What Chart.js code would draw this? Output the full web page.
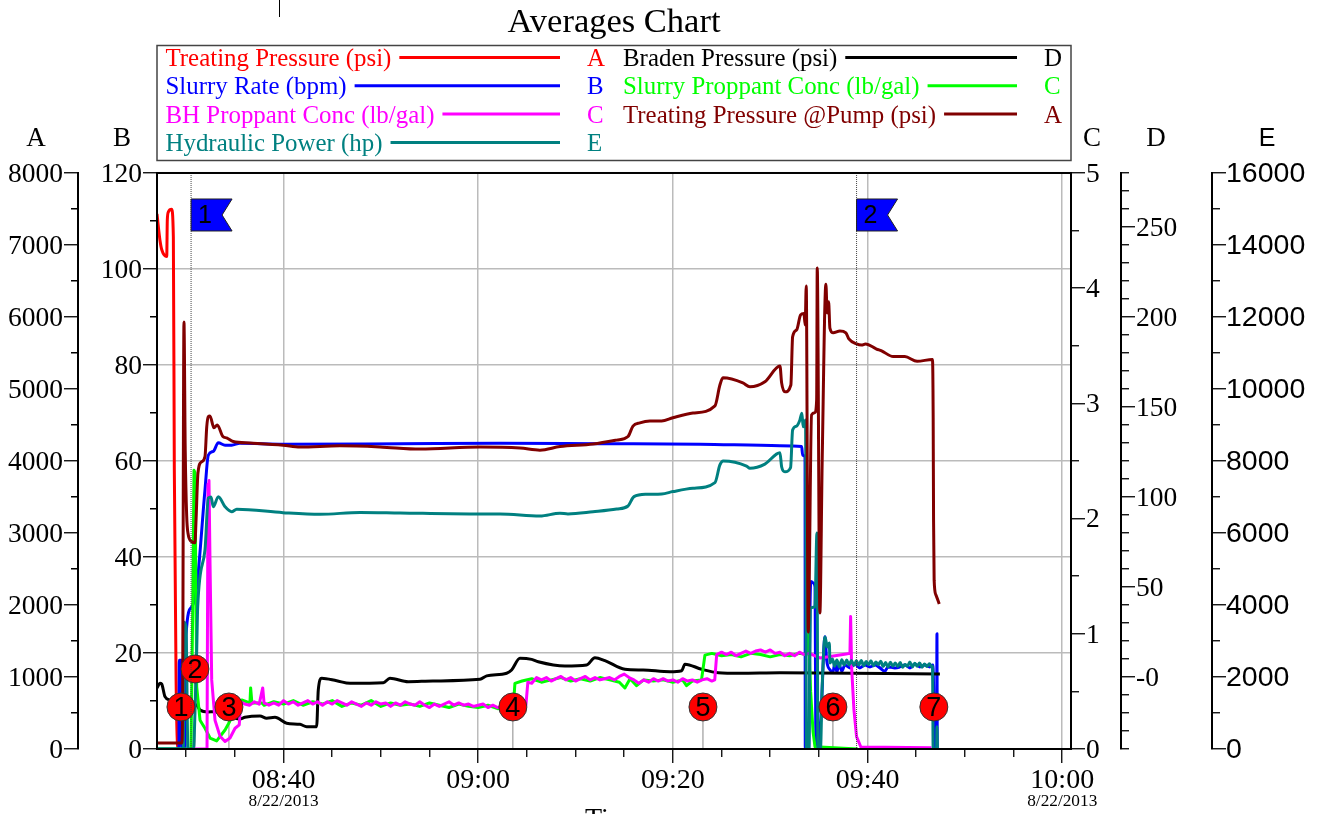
<!DOCTYPE html>
<html>
<head>
<meta charset="utf-8">
<title>Averages Chart</title>
<script src="https://cdn.jsdelivr.net/npm/chart.js@4"></script>
<style>
  html, body { margin: 0; padding: 0; background: #fff; overflow: hidden; }
  canvas { display: block; }
</style>
</head>
<body>
<canvas id="chart_1" width="1327" height="814"></canvas>
<script>
// every series is [minutes since midnight, value]
const treatingPressure = [[507,7430],[507.3,7070],[507.5,6930],[508,6840],[508.06,7350],[508.17,7460],[508.5,7495],[508.68,7115],[508.78,3875],[508.96,960],[509.13,30],[509.25,0]];

const slurryRate = [[507,0],[509.25,0],[509.29,18.5],[509.54,18.5],[509.57,0],[509.88,0],[509.98,23.7],[510.56,29.6],[511.08,33.8],[511.93,54],[512.27,61.2],[512.78,62],[513.3,63.8],[513.99,63.3],[514.67,63.3],[515.52,63.7],[519.95,63.5],[531.97,63.6],[542.24,63.7],[552.5,63.6],[562.8,63.5],[571,63.2],[573.23,63],[573.33,61.2],[573.57,60.9],[573.58,57.8],[573.6,0],[573.97,0],[574.08,28.3],[574.18,34.9],[574.42,34.6],[574.6,33.8],[574.7,0],[575,0],[575.05,3.3],[575.19,6],[575.63,23.4],[575.8,18.5],[576.14,16.5],[576.44,16],[576.64,17.9],[576.85,16],[577.05,17.7],[577.36,16.2],[577.67,17.5],[578.19,16.9],[578.7,17.7],[579.21,16.9],[579.73,17.5],[580.24,17.1],[580.75,17.5],[581.27,16.9],[581.78,16.2],[582.09,17.1],[582.81,16.9],[583.32,17.1],[583.84,17.5],[584.35,16.9],[584.86,17.7],[585.37,17.1],[585.89,17.5],[586.4,17.1],[586.71,17.5],[586.92,0.4],[587.09,0],[587.13,24],[587.16,0]];

const bhProppant = [[510.7,0],[512.14,0],[512.24,2.3],[512.34,2.33],[512.45,1.6],[512.62,0.6],[512.96,0.25],[513.48,0.11],[513.99,0.065],[514.5,0.095],[515.02,0.18],[515.45,0.21],[515.6,0.41],[516,0.39],[516.5,0.38],[517,0.41],[517.5,0.39],[517.86,0.53],[518,0.4],[518.5,0.38],[519,0.4],[519.5,0.38],[520,0.42],[520.5,0.39],[521,0.41],[521.5,0.38],[522,0.4],[522.5,0.42],[523,0.39],[523.5,0.41],[524,0.38],[524.5,0.41],[525,0.39],[525.5,0.42],[526,0.4],[526.5,0.38],[527,0.41],[527.5,0.39],[528,0.37],[528.5,0.4],[529,0.38],[529.5,0.41],[530,0.39],[530.5,0.4],[531,0.37],[531.5,0.4],[532,0.38],[532.5,0.41],[533,0.39],[533.5,0.38],[534,0.41],[534.5,0.38],[535,0.36],[535.5,0.39],[536,0.37],[536.5,0.39],[537,0.41],[537.5,0.38],[538,0.4],[538.5,0.38],[539,0.39],[539.5,0.37],[540,0.38],[540.5,0.39],[541,0.36],[541.5,0.38],[542,0.36],[542.5,0.37],[543,0.35],[543.5,0.37],[544,0.36],[544.5,0.38],[544.9,0.38],[545.1,0.58],[545.5,0.57],[546,0.62],[546.5,0.6],[547,0.62],[547.5,0.59],[548,0.61],[548.5,0.63],[549,0.6],[549.5,0.62],[550,0.59],[550.5,0.61],[551,0.63],[551.5,0.6],[552,0.62],[552.5,0.6],[553,0.61],[553.5,0.62],[554,0.6],[554.5,0.63],[555,0.65],[555.5,0.62],[556,0.6],[556.5,0.57],[557,0.6],[557.5,0.58],[558,0.61],[558.5,0.59],[559,0.61],[559.5,0.59],[560,0.6],[560.5,0.58],[561,0.61],[561.5,0.59],[562,0.6],[562.5,0.58],[563,0.6],[563.5,0.61],[564,0.59],[564.3,0.6],[564.5,0.82],[565,0.84],[565.5,0.82],[566,0.84],[566.5,0.81],[567,0.83],[567.5,0.85],[568,0.83],[568.5,0.85],[569,0.86],[569.5,0.84],[570,0.86],[570.5,0.83],[571,0.84],[571.5,0.81],[572,0.83],[572.5,0.81],[573,0.84],[573.5,0.82],[574,0.83],[575.1,0.79],[576,0.8],[577.8,0.825],[578.19,0.83],[578.26,1.15],[578.36,0.71],[578.6,0.34],[578.87,0.107],[579.31,0.017],[586.57,0.01]];

const hydraulicPower = [[507,0],[509.71,0],[509.74,3530],[509.98,3390],[510.18,0],[510.75,0],[510.9,1000],[511.08,2750],[511.18,3945],[511.93,5530],[512.27,6970],[512.55,7000],[512.78,6730],[513.3,7010],[513.99,6730],[514.67,6590],[515.19,6660],[519.95,6565],[523.75,6520],[527.86,6570],[531.97,6555],[539.15,6530],[542.24,6530],[546.34,6470],[548.4,6550],[549.22,6530],[551.79,6590],[554.23,6665],[555.39,6750],[556,7010],[557.31,7075],[558.85,7085],[560,7150],[562.06,7240],[564.32,7400],[564.83,7890],[565.17,8000],[567.57,7860],[567.91,7800],[569.45,7915],[571,8230],[571.17,7840],[571.51,7700],[572.09,7815],[572.3,8860],[572.71,8970],[573.05,9140],[573.25,9325],[573.39,8950],[573.63,9140],[573.72,0],[573.97,0],[574.13,3915],[574.59,3945],[574.8,6000],[574.9,0],[575.16,0],[575.34,1750],[575.63,3110],[575.86,2830],[576.07,2945],[576.14,2390],[576.4,2500],[576.6,2300],[576.85,2470],[577.1,2280],[577.35,2480],[577.6,2330],[577.85,2470],[578.1,2340],[578.35,2460],[578.6,2320],[578.85,2450],[579.1,2330],[579.35,2460],[579.6,2310],[579.85,2430],[580.1,2340],[580.35,2450],[580.6,2310],[580.85,2420],[581.1,2340],[581.35,2440],[581.6,2290],[581.85,2400],[582.1,2280],[582.35,2410],[582.6,2300],[582.85,2390],[583.1,2290],[583.35,2400],[583.6,2270],[583.85,2350],[584.1,2300],[584.35,2420],[584.6,2280],[584.85,2380],[585.1,2300],[585.35,2390],[585.6,2270],[585.85,2360],[586.1,2290],[586.35,2370],[586.6,2280],[586.67,2305],[586.74,0],[587.09,0],[587.13,620],[587.18,0]];

const bradenPressure = [[507,-6.1],[507.3,-3.5],[507.48,-3.9],[507.82,-10.9],[508.34,-12.8],[509.88,-14.4],[511.08,-15.6],[511.42,-18.3],[512.27,-19.4],[512.78,-19.3],[515.52,-23.3],[516.03,-22.4],[517.58,-21.7],[518.26,-22.9],[519.12,-22.4],[520.32,-25.7],[521.69,-26.3],[522.38,-27.6],[523.4,-27.6],[523.57,-7.2],[523.92,-0.7],[525.46,-2.1],[526.83,-3.5],[530.25,-3.2],[530.93,-0.7],[532.81,-2.6],[535.35,-2.2],[540.18,-1.3],[540.87,0.6],[542.92,2.1],[543.43,3.9],[544.29,10.4],[545.49,9.8],[546.17,8.5],[548.91,6.1],[551.14,6.7],[551.99,10.7],[553.02,9.1],[555.07,4.3],[556.95,3.9],[559.7,2.9],[560.9,3.5],[561.24,7.1],[562.95,4.3],[564.66,2.4],[566.88,2.1],[570.99,2.4],[587.43,1.7]];

const slurryProppant = [[507,0],[510.39,0],[510.49,0],[510.67,1.2],[510.8,2.42],[510.9,2.4],[511.08,0.54],[511.42,0.25],[511.93,0.18],[512.45,0.095],[513.13,0.07],[513.99,0.165],[514.33,0.217],[514.71,0.28],[515.33,0.37],[515.7,0.425],[516.55,0.4],[516.62,0.53],[516.75,0.4],[517.79,0.4],[518,0.38],[519,0.41],[520,0.39],[521,0.42],[522,0.38],[523,0.41],[524,0.39],[525,0.42],[526,0.37],[527,0.4],[528,0.38],[529,0.42],[530,0.37],[531,0.4],[532,0.38],[533,0.39],[534,0.37],[535,0.4],[536,0.38],[537,0.36],[538,0.39],[539,0.37],[540,0.36],[541,0.38],[542,0.35],[543.6,0.36],[543.77,0.57],[544.5,0.59],[545.5,0.61],[546.5,0.58],[547.5,0.6],[548.5,0.62],[549.5,0.59],[550.5,0.61],[551.5,0.59],[552.5,0.62],[553.5,0.6],[554.5,0.58],[555.07,0.53],[555.6,0.61],[556.27,0.55],[557,0.6],[558,0.59],[559,0.6],[560,0.58],[561,0.6],[561.4,0.55],[562,0.59],[562.94,0.6],[563.29,0.815],[564,0.83],[565,0.81],[566,0.82],[567,0.8],[568,0.83],[569,0.82],[570,0.8],[571,0.82],[572,0.81],[573,0.83],[573.7,0.82],[573.95,1],[574.15,0.5],[574.4,0.15],[574.6,0.02],[579,0]];

const pumpPressure = [[507,83],[509.54,83],[509.62,400],[509.77,5930],[509.9,4150],[510.05,3235],[510.18,3000],[510.56,2880],[510.9,2865],[511,3140],[511.21,3835],[511.59,3990],[511.93,4060],[512.11,4475],[512.27,4615],[512.44,4625],[512.85,4460],[513.19,4500],[513.77,4340],[514.15,4320],[514.83,4270],[516.55,4250],[519.95,4220],[521.69,4195],[525.8,4210],[529.9,4195],[534.02,4165],[540.18,4195],[544.3,4180],[546.34,4150],[548.4,4200],[551.8,4235],[554.23,4290],[555.39,4340],[555.9,4485],[556.61,4530],[557.64,4555],[558.84,4555],[560,4600],[562.06,4665],[564.32,4765],[564.83,5055],[565.14,5155],[567.19,5085],[567.91,5030],[569.45,5100],[571,5320],[571.17,5085],[571.51,4960],[572.12,5055],[572.3,5725],[572.71,5820],[573.12,6030],[573.46,6050],[573.59,5890],[573.7,6430],[573.9,1625],[574.25,4640],[574.59,4670],[574.77,4850],[574.83,6680],[575.1,1890],[575.34,4015],[575.72,6455],[575.85,6055],[576,6210],[576.13,5845],[576.47,5780],[577.16,5805],[577.77,5780],[578.08,5695],[578.87,5625],[579.38,5610],[579.79,5625],[580.92,5555],[581.44,5530],[582.63,5450],[583.83,5450],[585.09,5385],[586.67,5410],[586.74,4615],[586.78,3180],[586.84,2345],[587.02,2140],[587.36,2015]];

// numbered treatment markers, y read on axis B
const markerTimes = [509.46, 510.9, 514.39, 543.56, 563.09, 576.44, 586.81];
const markerLevels = [8.75, 16.67, 8.75, 8.75, 8.75, 8.75, 8.75];
const flagTimes = [510.5, 578.87];
const dateLabelTimes = [520, 600];
const dateLabel = "8/22/2013";

const serif = "'Liberation Serif'";
const sans = "'Liberation Sans'";

function makeSeries(label, data, color, axis, order, letter, smooth) {
  return {
    label: label,
    data: data,
    borderColor: color,
    backgroundColor: color,
    yAxisID: axis,
    order: order,
    letter: letter,
    borderWidth: 3,
    pointRadius: 0,
    cubicInterpolationMode: smooth ? "monotone" : "default",
    tension: 0,
    borderJoinStyle: "round",
  };
}

// the axis marks: long ticks at the labelled values, short ones in between
function axisGrid(majorStep, showLines, dashFromOuterEnd) {
  function isMajor(c) {
    return c.tick && Math.abs(c.tick.value / majorStep - Math.round(c.tick.value / majorStep)) < 1e-6;
  }
  return {
    drawOnChartArea: showLines,
    color: function (c) {
      return isMajor(c) ? "#bbbbbb" : "transparent";
    },
    lineWidth: 1.5,
    tickLength: 14,
    tickColor: "#000000",
    tickWidth: 1.3,
    tickBorderDash: function (c) {
      if (isMajor(c)) return [];
      return dashFromOuterEnd ? [0, 7, 7, 40] : [7, 40];
    },
  };
}

function yAxis(position, weight, width, min, max, step, majorStep, family, size, showLines, zeroText) {
  return {
    axis: "y",
    type: "linear",
    position: position,
    weight: weight,
    min: min,
    max: max,
    afterFit: function (scale) {
      scale.width = width;
    },
    border: { color: "#000000", width: 2 },
    grid: axisGrid(majorStep, showLines, position === "left"),
    ticks: {
      stepSize: step,
      autoSkip: false,
      includeBounds: false,
      padding: family === sans ? 0 : 1,
      labelOffset: 1.5,
      color: "#000000",
      font: { family: family, size: size },
      callback: function (v) {
        if (v % majorStep !== 0) return "";
        return v === 0 && zeroText ? zeroText : String(v);
      },
    },
  };
}

const plotDecor = {
  id: "plotDecor",
  beforeDatasetsDraw: function (chart) {
    const ctx = chart.ctx;
    const x = chart.scales.x;
    const y = chart.scales.B;
    ctx.save();
    ctx.strokeStyle = "#888888";
    ctx.lineWidth = 1;
    markerTimes.forEach(function (t, i) {
      ctx.beginPath();
      ctx.moveTo(x.getPixelForValue(t), y.getPixelForValue(markerLevels[i]));
      ctx.lineTo(x.getPixelForValue(t), chart.chartArea.bottom);
      ctx.stroke();
    });
    ctx.restore();
  },
  afterDatasetsDraw: function (chart) {
    const ctx = chart.ctx;
    const area = chart.chartArea;
    const x = chart.scales.x;
    ctx.save();

    // flags with their dotted stage lines
    flagTimes.forEach(function (t, i) {
      const px = x.getPixelForValue(t);
      ctx.strokeStyle = "#444444";
      ctx.lineWidth = 1;
      ctx.setLineDash([1, 1]);
      ctx.beginPath();
      ctx.moveTo(px, area.top);
      ctx.lineTo(px, area.bottom);
      ctx.stroke();
      ctx.setLineDash([]);
      ctx.beginPath();
      ctx.moveTo(px, area.top + 26);
      ctx.lineTo(px + 41, area.top + 26);
      ctx.lineTo(px + 31, area.top + 42);
      ctx.lineTo(px + 41, area.top + 58);
      ctx.lineTo(px, area.top + 58);
      ctx.closePath();
      ctx.fillStyle = "#0000ff";
      ctx.fill();
      ctx.strokeStyle = "#222222";
      ctx.stroke();
      ctx.fillStyle = "#000000";
      ctx.font = "25px " + sans;
      ctx.textAlign = "center";
      ctx.textBaseline = "alphabetic";
      ctx.fillText(String(i + 1), px + 14, area.top + 50);
    });

    // numbers inside the red markers
    const points = chart.getDatasetMeta(chart.data.datasets.length - 1).data;
    ctx.font = "27px " + sans;
    ctx.textAlign = "center";
    ctx.textBaseline = "alphabetic";
    ctx.fillStyle = "#000000";
    points.forEach(function (p, i) {
      ctx.fillText(String(i + 1), p.x, p.y + 9.5);
    });

    // frame round the plot
    ctx.strokeStyle = "#000000";
    ctx.lineWidth = 2;
    ctx.strokeRect(area.left, area.top, area.right - area.left, area.bottom - area.top);
    ctx.restore();
  },
  afterDraw: function (chart) {
    const ctx = chart.ctx;
    const x = chart.scales.x;
    ctx.save();

    // letters above the axes
    ctx.fillStyle = "#000000";
    ctx.textBaseline = "alphabetic";
    ctx.textAlign = "center";
    [["A", 36, serif], ["B", 122, serif], ["C", 1092, serif], ["D", 1156, serif], ["E", 1267, sans]].forEach(function (h) {
      ctx.font = (h[2] === sans ? "25px " : "27px ") + h[2];
      ctx.fillText(h[0], h[1], 145.5);
    });

    // date under the first and last time labels
    ctx.font = "17.3px " + serif;
    dateLabelTimes.forEach(function (t) {
      ctx.fillText(dateLabel, x.getPixelForValue(t), 806);
    });

    // stray mark above the chart
    ctx.strokeStyle = "#000000";
    ctx.lineWidth = 1;
    ctx.beginPath();
    ctx.moveTo(279.5, 0);
    ctx.lineTo(279.5, 17);
    ctx.stroke();

    // legend box
    ctx.strokeStyle = "#444444";
    ctx.lineWidth = 1.5;
    ctx.strokeRect(157, 45.5, 914, 115);
    const baselines = [66, 94.3, 122.6, 151];
    const columns = [
      { textX: 165.5, lineEnd: 560, letterX: 587, items: [0, 1, 2, 3] },
      { textX: 623, lineEnd: 1017, letterX: 1044, items: [4, 5, 6] },
    ];
    ctx.font = "24.9px " + serif;
    ctx.textAlign = "left";
    columns.forEach(function (col) {
      col.items.forEach(function (idx, row) {
        const ds = chart.data.datasets[idx];
        ctx.fillStyle = ds.borderColor;
        ctx.strokeStyle = ds.borderColor;
        ctx.fillText(ds.label, col.textX, baselines[row]);
        ctx.fillText(ds.letter, col.letterX, baselines[row]);
        ctx.lineWidth = 3;
        ctx.beginPath();
        ctx.moveTo(col.textX + ctx.measureText(ds.label).width + 8, baselines[row] - 8.5);
        ctx.lineTo(col.lineEnd, baselines[row] - 8.5);
        ctx.stroke();
      });
    });
    ctx.restore();
  },
};

const ctx1 = document.getElementById("chart_1").getContext("2d");
const chart1 = new Chart(ctx1, {
  type: "line",
  data: {
    datasets: [
      makeSeries("Treating Pressure (psi)", treatingPressure, "#ff0000", "A", 7, "A", true),
      makeSeries("Slurry Rate (bpm)", slurryRate, "#0000ff", "B", 6, "B", true),
      makeSeries("BH Proppant Conc (lb/gal)", bhProppant, "#ff00ff", "C", 3, "C", false),
      makeSeries("Hydraulic Power (hp)", hydraulicPower, "#008080", "E", 2, "E", true),
      makeSeries("Braden Pressure (psi)", bradenPressure, "#000000", "D", 5, "D", true),
      makeSeries("Slurry Proppant Conc (lb/gal)", slurryProppant, "#00ff00", "C", 4, "C", false),
      makeSeries("Treating Pressure @Pump (psi)", pumpPressure, "#800000", "A", 1, "A", true),
      {
        label: "Markers",
        data: markerTimes.map(function (t, i) {
          return [t, markerLevels[i]];
        }),
        yAxisID: "B",
        order: 0,
        showLine: false,
        pointRadius: 14,
        pointBackgroundColor: "#ff0000",
        pointBorderColor: "#333333",
        pointBorderWidth: 1,
      },
    ],
  },
  options: {
    responsive: false,
    animation: false,
    layout: { padding: 0 },
    plugins: {
      legend: { display: false },
      tooltip: { enabled: false },
      title: {
        display: true,
        fullSize: false,
        text: "Averages Chart",
        color: "#000000",
        font: { family: serif, size: 34.5, weight: "normal", lineHeight: 1.13 },
        padding: { top: 3, bottom: 131 },
      },
    },
    scales: {
      x: {
        type: "linear",
        position: "bottom",
        min: 507,
        max: 600.9,
        afterFit: function (scale) {
          scale.height = 65;
        },
        border: { color: "#000000", width: 2 },
        grid: axisGrid(20, true, false),
        title: {
          display: true,
          text: "Time",
          color: "#000000",
          font: { family: serif, size: 28 },
          padding: { top: 0, bottom: -22 },
        },
        ticks: {
          stepSize: 5,
          autoSkip: false,
          includeBounds: false,
          maxRotation: 0,
          padding: 1,
          color: "#000000",
          font: { family: serif, size: 28 },
          callback: function (v) {
            if (v % 20 !== 0) return "";
            const h = Math.floor(v / 60);
            const m = v % 60;
            return (h < 10 ? "0" : "") + h + ":" + (m < 10 ? "0" : "") + m;
          },
        },
      },
      A: yAxis("left", 2, 78, 0, 8000, 500, 1000, serif, 27.5, false),
      B: yAxis("left", 1, 79, 0, 120, 10, 20, serif, 27.5, true),
      C: yAxis("right", 1, 50, 0, 5, 0.5, 1, serif, 27.5, false),
      D: yAxis("right", 2, 91, -40, 280, 10, 50, serif, 27.5, false, "-0"),
      E: yAxis("right", 3, 115, 0, 16000, 1000, 2000, sans, 28.5, false),
    },
  },
  plugins: [plotDecor],
});
</script>
</body>
</html>
